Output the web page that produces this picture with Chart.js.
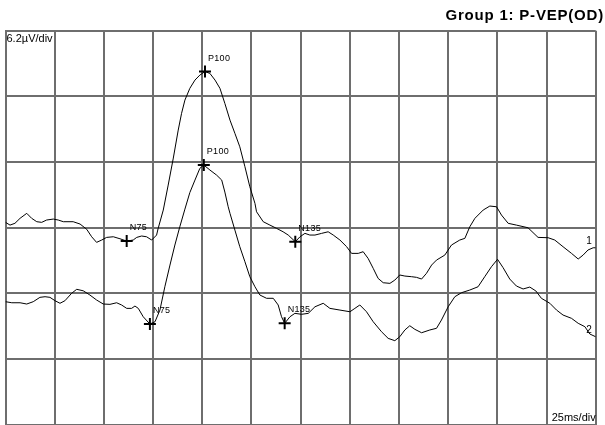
<!DOCTYPE html>
<html>
<head>
<meta charset="utf-8">
<script src="https://cdn.jsdelivr.net/npm/chart.js@4/dist/chart.umd.min.js"></script>
<style>
html,body{margin:0;padding:0;background:#fff;}
#wrap{width:605px;height:425px;position:relative;}
</style>
</head>
<body>
<div id="wrap"><canvas id="c" width="605" height="425"></canvas></div>
<script>
// ---- Data (time in ms, amplitude in µV) ----
const chartTitle = 'Group 1: P-VEP(OD)';
const ampScaleLabel = '6.2\u00B5V/div';
const timeScaleLabel = '25ms/div';
const xTicksMs = [0, 25, 50, 75, 100, 125, 150, 175, 200, 225, 250, 275, 300];
const yTicksUv = [-18.6, -12.4, -6.2, 0, 6.2, 12.4, 18.6];

const trace1Ms = [0, 2.3, 4.8, 7.4, 10.8, 13.3, 15.9, 18.4, 20.9, 24.3, 26.8, 29.4, 34.4, 37.9, 41.3, 43.8, 46.3, 48.9, 51.4, 54.8, 58.2, 61.6, 64.9, 66.7, 69.2, 71.7, 74.3, 76.8, 77.6, 80.2, 82.7, 85.3, 87.8, 89.5, 91.2, 93.7, 96.3, 98.8, 101.4, 103.9, 106.5, 109.0, 111.5, 114.1, 116.6, 119.1, 121.7, 124.2, 126.8, 127.6, 131.0, 134.4, 137.8, 141.1, 143.7, 147.3, 149.7, 152.2, 154.7, 157.3, 160.7, 164.0, 166.6, 170.0, 173.4, 175.9, 179.3, 181.8, 184.3, 186.9, 189.4, 192.0, 195.4, 197.9, 200.4, 203.0, 206.4, 208.9, 211.5, 214.0, 216.6, 219.1, 223.3, 226.7, 230.9, 233.5, 236.0, 238.6, 242.8, 246.2, 249.6, 252.1, 255.5, 259.7, 265.6, 270.7, 275.8, 279.2, 283.4, 287.7, 291.1, 293.6, 296.1, 298.7, 300];
const trace1Uv = [0.51, 0.25, 0.42, 0.89, 1.36, 0.89, 0.57, 0.51, 0.73, 0.82, 0.73, 0.57, 0.57, 0.35, -0.15, -0.85, -1.38, -1.16, -0.91, -0.85, -1.04, -1.26, -1.16, -0.91, -0.78, -0.85, -1.16, -0.69, -0.06, 1.67, 4.03, 6.58, 9.22, 10.80, 12.05, 13.16, 13.94, 14.41, 14.74, 14.57, 13.94, 13.16, 11.74, 10.16, 8.91, 7.64, 5.76, 3.87, 2.30, 1.51, 0.57, 0.25, -0.06, -0.38, -0.69, -1.32, -0.85, -0.53, -0.69, -0.69, -0.53, -0.38, -0.69, -1.16, -1.79, -2.42, -2.42, -2.26, -2.89, -3.83, -4.78, -5.19, -5.25, -4.94, -4.46, -4.56, -4.62, -4.68, -4.84, -4.30, -3.52, -3.05, -2.58, -1.63, -1.16, -1.00, 0.09, 0.89, 1.67, 2.05, 1.98, 1.20, 0.42, 0.25, 0.00, -0.91, -0.94, -1.16, -1.79, -2.42, -2.95, -2.58, -2.10, -1.89, -1.89];

const trace2Ms = [0, 3.2, 7.4, 10.8, 14.1, 17.5, 20.1, 22.6, 25.2, 27.7, 30.2, 33.6, 36.2, 39.5, 42.9, 46.3, 49.7, 53.1, 56.5, 59.0, 61.6, 64.1, 65.8, 67.5, 70.0, 73.4, 76.0, 78.5, 81.0, 83.6, 86.1, 88.6, 91.2, 93.7, 96.3, 98.8, 100.8, 103.9, 107.3, 109.9, 111.5, 113.2, 114.1, 116.6, 119.1, 121.7, 124.2, 126.8, 129.3, 132.7, 136.1, 138.6, 140.3, 141.9, 144.6, 147.1, 150.5, 153.9, 157.3, 161.5, 164.9, 170.0, 175.1, 177.6, 180.1, 183.5, 186.9, 191.1, 194.5, 197.9, 200.4, 203.0, 205.5, 208.1, 211.5, 215.7, 219.1, 221.6, 225.0, 228.4, 231.8, 236.0, 240.2, 243.6, 247.0, 250.1, 252.9, 256.3, 259.7, 263.1, 266.5, 269.6, 272.4, 276.7, 280.1, 283.4, 287.7, 291.1, 294.5, 297.0, 300];
const trace2Uv = [-6.98, -7.08, -7.08, -7.20, -6.98, -6.57, -6.51, -6.57, -6.89, -7.13, -6.89, -6.19, -5.81, -5.95, -6.35, -6.82, -7.20, -7.23, -7.08, -7.29, -7.61, -7.61, -7.39, -7.61, -8.40, -9.09, -8.87, -7.77, -5.57, -3.52, -1.63, 0.09, 1.76, 3.32, 4.50, 5.61, 5.92, 5.45, 4.97, 4.50, 3.37, 1.98, 1.36, -0.22, -1.79, -3.21, -4.62, -5.57, -6.35, -6.66, -6.66, -7.29, -8.40, -9.02, -8.40, -8.08, -8.17, -8.08, -7.46, -7.13, -7.61, -7.77, -7.93, -7.61, -7.29, -7.93, -8.87, -9.81, -10.44, -10.66, -10.29, -9.65, -9.25, -9.59, -9.91, -9.65, -9.49, -8.71, -7.46, -6.51, -6.13, -5.88, -5.57, -4.62, -3.68, -2.98, -3.76, -4.84, -5.50, -5.78, -5.60, -5.97, -6.66, -7.13, -7.77, -8.24, -8.55, -9.02, -9.34, -10.03, -10.29];

// Peak markers
const peakNames = ['N75', 'P100', 'N135'];
const peaks1Ms = [61.6, 101.4, 147.3];
const peaks1Uv = [-1.26, 14.74, -1.32];
const peaks2Ms = [73.4, 100.8, 141.9];
const peaks2Uv = [-9.09, 5.92, -9.02];
const traceNames = ['1', '2'];

// ---- Build ----
const toPts = (xs, ys) => xs.map((x, i) => ({x: x, y: ys[i]}));
const GRID = '#6e6e6e';
const FONT = "'Liberation Sans', Arial, sans-serif";

const textPlugin = {
  id: 'vepText',
  afterDatasetsDraw(chart) {
    const ctx = chart.ctx;
    const xs = chart.scales.x, ys = chart.scales.y;
    const area = chart.chartArea;
    ctx.save();
    ctx.fillStyle = '#000';
    // Title
    ctx.font = 'bold 15px ' + FONT;
    ctx.letterSpacing = '0.8px';
    ctx.textAlign = 'right';
    ctx.textBaseline = 'alphabetic';
    ctx.fillText(chartTitle, 604, 20);
    ctx.letterSpacing = '0px';
    // Scale labels
    ctx.font = '11px ' + FONT;
    ctx.textAlign = 'left';
    ctx.fillText(ampScaleLabel, area.left + 1, area.top + 11);
    ctx.textAlign = 'right';
    ctx.fillText(timeScaleLabel, area.right, area.bottom - 4);
    // Peak labels
    ctx.font = '9px ' + FONT;
    ctx.letterSpacing = '0.3px';
    ctx.textAlign = 'left';
    [[peaks1Ms, peaks1Uv], [peaks2Ms, peaks2Uv]].forEach(([pm, pu]) => {
      pm.forEach((m, i) => {
        const px = xs.getPixelForValue(m);
        const py = ys.getPixelForValue(pu[i]);
        ctx.fillText(peakNames[i], px + 3, py - 11);
      });
    });
    // Trace numbers
    ctx.font = '10px ' + FONT;
    ctx.letterSpacing = '0px';
    ctx.textAlign = 'right';
    [[trace1Ms, trace1Uv], [trace2Ms, trace2Uv]].forEach(([tm, tu], k) => {
      const n = tm.length - 1;
      const px = xs.getPixelForValue(tm[n]);
      const py = ys.getPixelForValue(tu[n]);
      ctx.fillText(traceNames[k], px - 4, py - 4);
    });
    ctx.restore();
  }
};

new Chart(document.getElementById('c'), {
  type: 'scatter',
  data: {
    datasets: [
      {data: toPts(trace1Ms, trace1Uv), showLine: true, borderColor: '#000', borderWidth: 1, pointRadius: 0, tension: 0, fill: false},
      {data: toPts(trace2Ms, trace2Uv), showLine: true, borderColor: '#000', borderWidth: 1, pointRadius: 0, tension: 0, fill: false},
      {data: toPts(peaks1Ms, peaks1Uv), showLine: false, pointStyle: 'cross', pointRadius: 6, borderColor: '#000', borderWidth: 2},
      {data: toPts(peaks2Ms, peaks2Uv), showLine: false, pointStyle: 'cross', pointRadius: 6, borderColor: '#000', borderWidth: 2}
    ]
  },
  options: {
    responsive: false,
    devicePixelRatio: 1,
    animation: false,
    layout: {autoPadding: false, padding: {left: 5.5, right: 9.3, top: 30.7, bottom: 0.2}},
    plugins: {legend: {display: false}, tooltip: {enabled: false}, title: {display: false}},
    scales: {
      x: {
        type: 'linear', min: 0, max: 300,
        afterBuildTicks: (s) => { s.ticks = xTicksMs.map(v => ({value: v})); },
        afterFit: (s) => { s.height = 0; },
        ticks: {display: false},
        grid: {color: GRID, lineWidth: 2, drawTicks: false},
        border: {display: true, color: GRID, width: 2}
      },
      y: {
        type: 'linear', min: -18.6, max: 18.6,
        afterBuildTicks: (s) => { s.ticks = yTicksUv.map(v => ({value: v})); },
        afterFit: (s) => { s.width = 0; },
        ticks: {display: false},
        grid: {color: GRID, lineWidth: 2, drawTicks: false},
        border: {display: true, color: GRID, width: 2}
      }
    }
  },
  plugins: [textPlugin]
});
</script>
</body>
</html>
